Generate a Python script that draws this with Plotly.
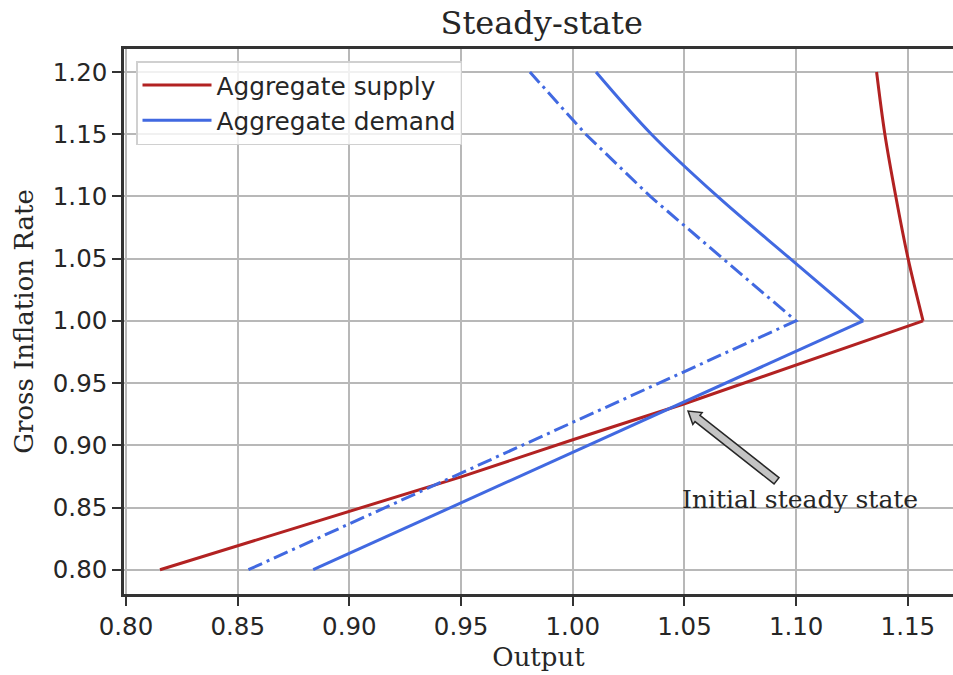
import math
import plotly.graph_objects as go

# ---- data ----
# aggregate supply: lower branch (0.80 -> 1.00) and upper branch (1.00 -> 1.20)
as_low_output = [0.8152, 0.90, 0.95, 1.00, 1.05, 1.1568]
as_low_infl = [0.80, 0.8473, 0.8746, 0.9045, 0.9334, 1.00]
as_up_output = [1.1568, 1.1501, 1.1446, 1.1397, 1.1360]
as_up_infl = [1.00, 1.05, 1.10, 1.15, 1.20]

# aggregate demand (initial, solid)
ad_low_output = [0.8838, 1.1300]
ad_low_infl = [0.80, 1.00]
ad_up_output = [1.1300, 1.0973, 1.0648, 1.0352, 1.0104]
ad_up_infl = [1.00, 1.05, 1.10, 1.15, 1.20]

# aggregate demand (shifted, dash-dot)
ad2_low_output = [0.8548, 1.0999]
ad2_low_infl = [0.80, 1.00]
ad2_up_output = [1.0999, 1.0672, 1.0347, 1.0058, 0.9808]
ad2_up_infl = [1.00, 1.05, 1.10, 1.15, 1.20]

x_ticks = [0.80, 0.85, 0.90, 0.95, 1.00, 1.05, 1.10, 1.15]
y_ticks = [0.80, 0.85, 0.90, 0.95, 1.00, 1.05, 1.10, 1.15, 1.20]

annot_text = "Initial steady state"
annot_xy = (1.0516, 0.9275)      # arrow tip
annot_tail = (1.0912, 0.8715)    # arrow tail
annot_text_xy = (1.05, 0.85)     # text anchor

# ---- layout constants ----
W, H = 953, 675
ML, MR, MT, MB = 124, 0, 49, 81
x_range = [0.7991, 1.1702]
y_range = [0.7805, 1.2185]
PW, PH = W - ML - MR, H - MT - MB
sx = PW / (x_range[1] - x_range[0])
sy = PH / (y_range[1] - y_range[0])

RED = "#b22222"
BLUE = "#4169e1"
DASHDOT = "15px,5px,3px,5px"
TICK_FONT = dict(family="DejaVu Sans", size=24.5, color="#262626")
SERIF = "DejaVu Serif"

fig = go.Figure()
fig.add_trace(go.Scatter(x=as_low_output, y=as_low_infl, mode="lines", name="Aggregate supply",
                         legendgroup="as", line=dict(color=RED, width=3)))
fig.add_trace(go.Scatter(x=as_up_output, y=as_up_infl, mode="lines", showlegend=False,
                         legendgroup="as", line=dict(color=RED, width=3, shape="spline")))
fig.add_trace(go.Scatter(x=ad_low_output, y=ad_low_infl, mode="lines", name="Aggregate demand",
                         legendgroup="ad", line=dict(color=BLUE, width=3)))
fig.add_trace(go.Scatter(x=ad_up_output, y=ad_up_infl, mode="lines", showlegend=False,
                         legendgroup="ad", line=dict(color=BLUE, width=3, shape="spline")))
fig.add_trace(go.Scatter(x=ad2_low_output + ad2_up_output[1:],
                         y=ad2_low_infl + ad2_up_infl[1:],
                         mode="lines", showlegend=False,
                         line=dict(color=BLUE, width=3, dash=DASHDOT)))

# ---- block arrow built in pixel space from the annotation points ----
tx, ty = annot_xy
bx, by = annot_tail
dxp = (tx - bx) * sx
dyp = -(ty - by) * sy
L = math.hypot(dxp, dyp)
ux, uy = dxp / L, dyp / L
nx, ny = -uy, ux
shaft_w, head_w, head_l = 8.0, 15.0, 12.0
pts_px = [
    (nx * shaft_w / 2, ny * shaft_w / 2),
    (ux * (L - head_l) + nx * shaft_w / 2, uy * (L - head_l) + ny * shaft_w / 2),
    (ux * (L - head_l) + nx * head_w / 2, uy * (L - head_l) + ny * head_w / 2),
    (ux * L, uy * L),
    (ux * (L - head_l) - nx * head_w / 2, uy * (L - head_l) - ny * head_w / 2),
    (ux * (L - head_l) - nx * shaft_w / 2, uy * (L - head_l) - ny * shaft_w / 2),
    (-nx * shaft_w / 2, -ny * shaft_w / 2),
]
pts = [(bx + px / sx, by - py / sy) for px, py in pts_px]
path = "M " + " L ".join(f"{x:.6f},{y:.6f}" for x, y in pts) + " Z"
fig.add_shape(type="path", path=path, xref="x", yref="y",
              fillcolor="#c4c4c4", line=dict(color="#262626", width=1.5), layer="above")

fig.add_annotation(x=annot_text_xy[0], y=annot_text_xy[1], xref="x", yref="y",
                   text=annot_text, showarrow=False, xanchor="left", yanchor="middle",
                   font=dict(family=SERIF, size=25, color="#262626"), xshift=-4, yshift=8)

fig.update_layout(
    width=W, height=H,
    margin=dict(l=ML, r=MR, t=MT, b=MB),
    paper_bgcolor="white", plot_bgcolor="white",
    title=dict(text="Steady-state", x=541.7 / W, xref="container", xanchor="center",
               y=1 - 23 / H, yref="container", yanchor="middle",
               font=dict(family=SERIF, size=32, color="#262626")),
    legend=dict(x=12 / PW, y=1 - 12 / PH, xanchor="left", yanchor="top",
                bgcolor="rgba(255,255,255,0.8)", bordercolor="#d0d0d0", borderwidth=1.5,
                font=dict(family="DejaVu Sans", size=24.8, color="#262626"),
                tracegroupgap=0, itemwidth=69),
    showlegend=True,
)
fig.update_xaxes(range=x_range, tickvals=x_ticks, ticktext=[f"{v:.2f}" for v in x_ticks],
                 showgrid=True, gridcolor="#b8b8b8", gridwidth=2, zeroline=False,
                 showline=True, linecolor="#333333", linewidth=2.5, mirror=True,
                 ticks="outside", ticklen=9, tickwidth=2, tickcolor="#333333",
                 tickfont=TICK_FONT,
                 title=dict(text="Output", font=dict(family=SERIF, size=26, color="#262626"),
                            standoff=8))
fig.update_yaxes(range=y_range, tickvals=y_ticks, ticktext=[f"{v:.2f}" for v in y_ticks],
                 showgrid=True, gridcolor="#b8b8b8", gridwidth=2, zeroline=False,
                 showline=True, linecolor="#333333", linewidth=2.5, mirror=False,
                 ticks="outside", ticklen=9, tickwidth=2, tickcolor="#333333",
                 tickfont=TICK_FONT,
                 title=dict(text="Gross Inflation Rate",
                            font=dict(family=SERIF, size=26, color="#262626"), standoff=12))

fig.write_html("out.html")
